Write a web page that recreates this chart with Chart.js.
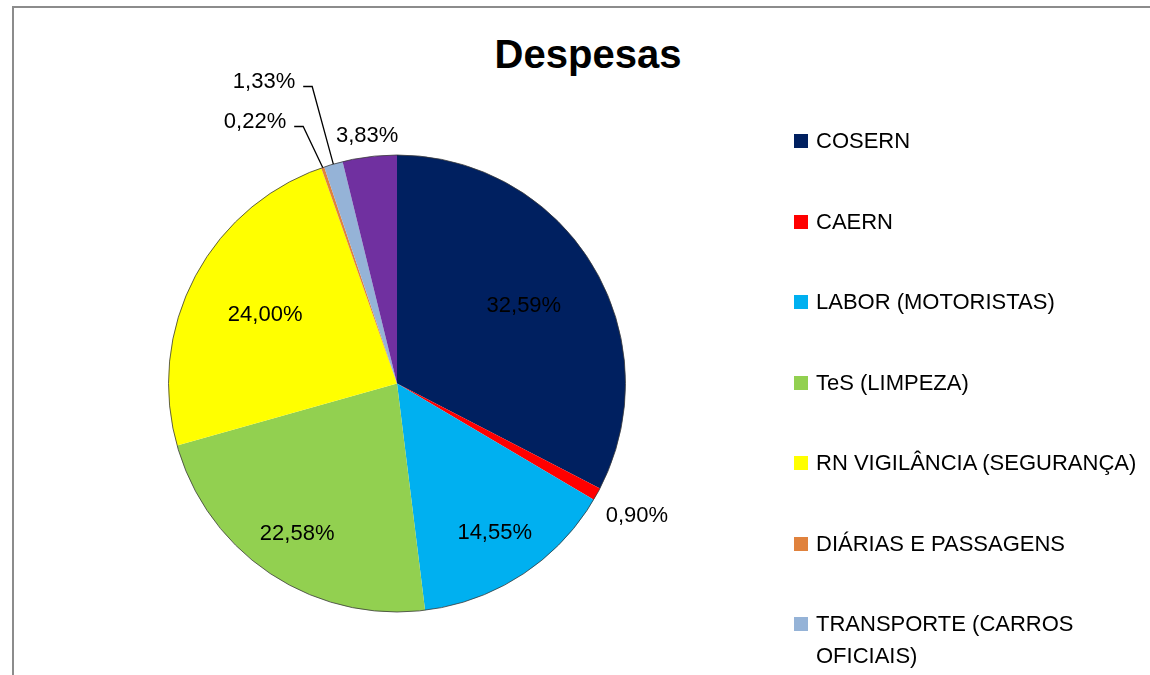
<!DOCTYPE html>
<html>
<head>
<meta charset="utf-8">
<script src="https://cdn.jsdelivr.net/npm/chart.js@4"></script>
<style>
  html,body{margin:0;padding:0;background:#fff;overflow:hidden}
  #wrap{position:relative;width:1150px;height:675px;overflow:hidden;font-family:"Liberation Sans",Arial,sans-serif}
  #frame{position:absolute;left:12px;top:6px;width:1200px;height:700px;border:2px solid #8c8c8c;box-sizing:border-box}
  #title{position:absolute;left:388px;width:400px;top:32px;text-align:center;font-weight:bold;font-size:40px;color:#000}
  canvas{position:absolute;left:0;top:0}
  .leg{position:absolute;left:794px;font-size:22px;color:#000;line-height:32px;width:350px}
  .leg i{position:absolute;left:0;top:9px;width:14px;height:14px}
  .leg span{display:block;margin-left:22px}
</style>
</head>
<body>
<div id="wrap">
  <div id="frame"></div>
  <div id="title">Despesas</div>
  <canvas id="c" width="1150" height="675"></canvas>
  <div id="legend"></div>
</div>
<script>
const CATEGORIES = ['COSERN','CAERN','LABOR (MOTORISTAS)','TeS (LIMPEZA)','RN VIGILÂNCIA (SEGURANÇA)','DIÁRIAS E PASSAGENS','TRANSPORTE (CARROS OFICIAIS)','OUTROS'];
const VALUES = [32.59,0.90,14.55,22.58,24.00,0.22,1.33,3.83];
const COLORS = ['#002060','#ff0000','#00b0f0','#92d050','#ffff00','#e0823d','#95b3d7','#7030a0'];

// where each percentage label sits: ratio of radius along slice middle, or fixed offset with a leader line
const LABEL_POS = [{r:0.65},{r:1.2},{r:0.78},{r:0.79},{r:0.65},{dx:-142,dy:-262,lead:true},{dx:-133,dy:-302,lead:true},{r:1.09}];

function fmt(v){return v.toFixed(2).replace('.',',')+'%'}

const pieLabels = {
  id:'pieLabels',
  afterDatasetsDraw(chart){
    const ctx = chart.ctx, arcs = chart.getDatasetMeta(0).data;
    const cx = arcs[0].x, cy = arcs[0].y, R = arcs[0].outerRadius;
    ctx.save();
    // outline around the pie
    ctx.beginPath(); ctx.arc(cx,cy,R,0,Math.PI*2); ctx.strokeStyle='#3a3a3a'; ctx.lineWidth=0.8; ctx.stroke();
    ctx.font='22px "Liberation Sans", Arial, sans-serif'; ctx.fillStyle='#000'; ctx.textAlign='center'; ctx.textBaseline='middle';
    arcs.forEach((a,i)=>{
      const mid = (a.startAngle+a.endAngle)/2, p = LABEL_POS[i], txt = fmt(VALUES[i]);
      let x, y;
      if(p.lead){
        x = cx+p.dx; y = cy+p.dy;
        const w = ctx.measureText(txt).width;
        const sx = x+w/2+8, ex = Math.cos(mid)*R+cx, ey = Math.sin(mid)*R+cy;
        ctx.beginPath(); ctx.moveTo(sx,y+5); ctx.lineTo(sx+9,y+5); ctx.lineTo(ex,ey);
        ctx.strokeStyle='#000'; ctx.lineWidth=1.3; ctx.stroke();
      } else {
        x = cx+Math.cos(mid)*R*p.r; y = cy+Math.sin(mid)*R*p.r;
      }
      ctx.fillText(txt,x,y);
    });
    ctx.restore();
  }
};

const chart = new Chart(document.getElementById('c'),{
  type:'pie',
  data:{labels:CATEGORIES,datasets:[{data:VALUES,backgroundColor:COLORS,borderWidth:0}]},
  options:{
    responsive:false,animation:false,
    layout:{padding:{left:168,right:524,top:155,bottom:63}},
    plugins:{legend:{display:false},tooltip:{enabled:false}}
  },
  plugins:[pieLabels]
});

// legend on the right, built from the same arrays
const legendEl = document.getElementById('legend');
CATEGORIES.forEach((name,i)=>{
  const d = document.createElement('div'); d.className='leg'; d.style.top = (125+i*80.5)+'px';
  const sw = document.createElement('i'); sw.style.background = COLORS[i];
  const s = document.createElement('span'); s.textContent = name;
  if(name==='TRANSPORTE (CARROS OFICIAIS)'){ s.style.width='270px' }
  d.appendChild(sw); d.appendChild(s); legendEl.appendChild(d);
});
</script>
</body>
</html>
